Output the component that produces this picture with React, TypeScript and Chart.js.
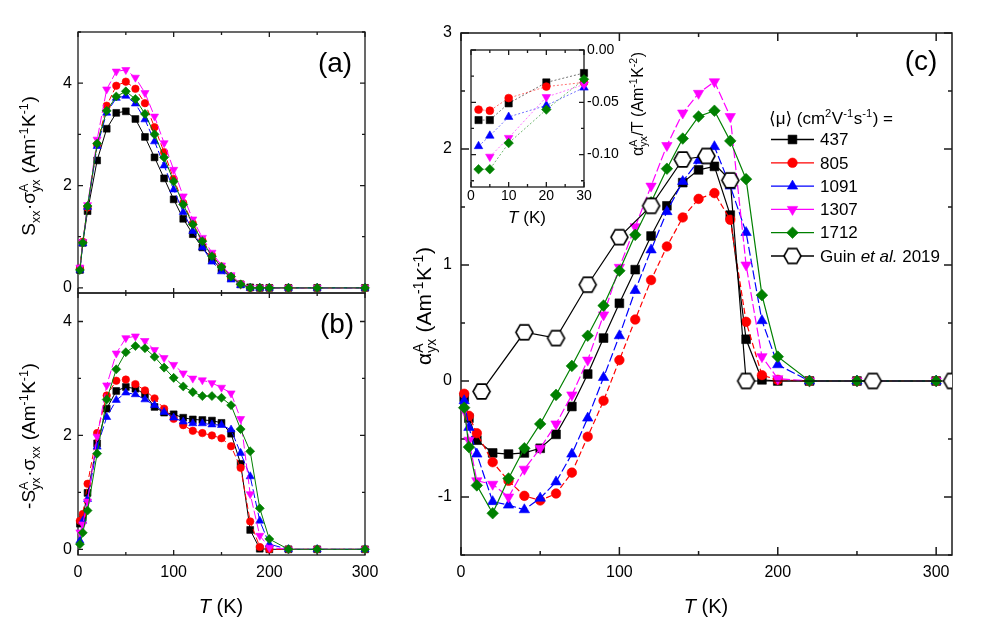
import React, { useEffect, useRef } from 'react';
import { Chart, registerables } from 'chart.js';
import { drawPoint } from 'chart.js/helpers';

Chart.register(...registerables);

const FONT = "'Liberation Sans', Arial, Helvetica, 'DejaVu Sans', sans-serif";
const W = 981;
const H = 638;

// ---------------- data ----------------
const T_MAIN = [2, 5, 10, 20, 30, 40, 50, 60, 70, 80, 90, 100, 110, 120, 130, 140, 150, 160, 170, 180, 190, 200, 220, 250, 300];
const MOBILITY_LABELS = ['437', '805', '1091', '1307', '1712'];

// panel (a): S_xx * sigma^A_yx
const A_437 = [0.35, 0.88, 1.5, 2.49, 3.11, 3.42, 3.45, 3.3, 2.95, 2.55, 2.14, 1.73, 1.35, 1.05, 0.79, 0.56, 0.36, 0.2, 0.07, 0.01, 0, 0, 0, 0, 0];
const A_805 = [0.38, 0.9, 1.57, 2.8, 3.56, 3.95, 4.03, 3.89, 3.61, 3.14, 2.65, 2.13, 1.66, 1.26, 0.93, 0.64, 0.42, 0.22, 0.07, 0, 0, 0, 0, 0, 0];
const A_1091 = [0.35, 0.87, 1.58, 2.77, 3.42, 3.71, 3.75, 3.6, 3.29, 2.86, 2.39, 1.92, 1.48, 1.11, 0.79, 0.51, 0.32, 0.16, 0.05, 0, 0, 0, 0, 0, 0];
const A_1307 = [0.4, 0.9, 1.62, 2.9, 3.88, 4.23, 4.26, 4.11, 3.81, 3.35, 2.83, 2.31, 1.79, 1.34, 0.98, 0.69, 0.44, 0.25, 0.08, 0, 0, 0, 0, 0, 0];
const A_1712 = [0.35, 0.88, 1.6, 2.82, 3.46, 3.74, 3.84, 3.69, 3.4, 3.0, 2.55, 2.08, 1.63, 1.24, 0.91, 0.62, 0.41, 0.22, 0.07, 0, 0, 0, 0, 0, 0];

// panel (b): -S^A_yx * sigma_xx
const B_437 = [0.45, 0.56, 0.99, 1.86, 2.47, 2.78, 2.85, 2.82, 2.72, 2.5, 2.4, 2.37, 2.31, 2.28, 2.27, 2.26, 2.22, 2.03, 1.5, 0.34, 0.01, 0, 0, 0, 0];
const B_805 = [0.5, 0.62, 1.15, 2.04, 2.7, 2.96, 2.98, 2.9, 2.79, 2.65, 2.47, 2.29, 2.18, 2.08, 2.04, 2.0, 1.95, 1.81, 1.43, 0.49, 0.04, 0, 0, 0, 0];
const B_1091 = [0.15, 0.5, 0.88, 1.8, 2.32, 2.62, 2.75, 2.72, 2.63, 2.53, 2.41, 2.31, 2.24, 2.21, 2.21, 2.19, 2.18, 2.1, 1.69, 1.28, 0.5, 0.09, 0, 0, 0];
const B_1307 = [0.3, 0.44, 0.84, 1.98, 2.88, 3.44, 3.71, 3.74, 3.66, 3.5, 3.36, 3.24, 3.09, 3.0, 2.97, 2.92, 2.84, 2.74, 2.29, 0.97, 0.24, 0.03, 0, 0, 0];
const B_1712 = [0.09, 0.29, 0.68, 1.68, 2.63, 3.16, 3.46, 3.57, 3.53, 3.38, 3.19, 3.01, 2.86, 2.76, 2.69, 2.69, 2.66, 2.53, 2.11, 1.72, 0.72, 0.18, 0, 0, 0];

// panel (c): alpha^A_yx
const C_437 = [-0.14, -0.32, -0.51, -0.62, -0.63, -0.62, -0.58, -0.46, -0.22, 0.06, 0.37, 0.67, 0.96, 1.25, 1.51, 1.71, 1.82, 1.85, 1.43, 0.36, 0.01, 0, 0, 0, 0];
const C_805 = [-0.11, -0.3, -0.45, -0.7, -0.86, -0.99, -1.03, -0.97, -0.79, -0.48, -0.17, 0.18, 0.53, 0.87, 1.16, 1.41, 1.57, 1.62, 1.39, 0.51, 0.05, 0.01, 0, 0, 0];
const C_1091 = [-0.17, -0.4, -0.63, -1.04, -1.07, -1.11, -1.01, -0.87, -0.63, -0.32, 0.03, 0.39, 0.78, 1.13, 1.46, 1.72, 1.9, 2.02, 1.68, 1.28, 0.52, 0.14, 0, 0, 0];
const C_1307 = [-0.25, -0.51, -0.86, -0.89, -1.0, -0.76, -0.58, -0.37, -0.12, 0.18, 0.57, 0.98, 1.33, 1.68, 2.03, 2.31, 2.48, 2.58, 2.28, 1.0, 0.21, 0.02, 0, 0, 0];
const C_1712 = [-0.23, -0.57, -0.9, -1.14, -0.84, -0.58, -0.37, -0.12, 0.13, 0.39, 0.65, 0.95, 1.26, 1.54, 1.83, 2.09, 2.28, 2.33, 2.07, 1.74, 0.74, 0.21, 0, 0, 0];

// Guin et al. 2019
const GUIN_T = [13, 40, 60, 80, 100, 120, 140, 155, 170, 180, 260, 310];
const GUIN_ALPHA = [-0.09, 0.42, 0.37, 0.83, 1.24, 1.51, 1.91, 1.94, 1.73, 0, 0, 0];

// inset: alpha^A_yx / T
const T_INSET = [2, 5, 10, 20, 30];
const IN_437 = [-0.067, -0.067, -0.051, -0.031, -0.022];
const IN_805 = [-0.057, -0.058, -0.046, -0.035, -0.031];
const IN_1091 = [-0.092, -0.082, -0.064, -0.053, -0.036];
const IN_1307 = [null, -0.102, -0.084, -0.045, -0.033];
const IN_1712 = [-0.114, -0.114, -0.089, -0.057, -0.028];

// ---------------- styles ----------------
type Style = { color: string; point: string; rot: number; dash: number[]; r: number };
const STYLES: Style[] = [
  { color: '#000000', point: 'rect', rot: 0, dash: [], r: 6.2 },
  { color: '#ff0000', point: 'circle', rot: 0, dash: [6, 3], r: 4.8 },
  { color: '#0000ff', point: 'triangle', rot: 0, dash: [9, 3], r: 6 },
  { color: '#ff00ff', point: 'triangle', rot: 180, dash: [9, 3], r: 6 },
  { color: '#008000', point: 'rectRot', rot: 0, dash: [], r: 5.8 },
];

function makeHex(r: number): HTMLCanvasElement {
  const c = document.createElement('canvas');
  const s = Math.ceil(r * 2 + 4);
  c.width = s;
  c.height = s;
  const ctx = c.getContext('2d')!;
  ctx.beginPath();
  for (let i = 0; i < 6; i++) {
    const a = (i * Math.PI) / 3;
    const x = s / 2 + r * Math.cos(a);
    const y = s / 2 + r * Math.sin(a);
    if (i) ctx.lineTo(x, y);
    else ctx.moveTo(x, y);
  }
  ctx.closePath();
  ctx.fillStyle = '#ffffff';
  ctx.fill();
  ctx.lineWidth = 1.6;
  ctx.strokeStyle = '#000000';
  ctx.stroke();
  return c;
}
const HEX = makeHex(8.5);

function rgba(hex: string, a: number) {
  const n = parseInt(hex.slice(1), 16);
  return `rgba(${(n >> 16) & 255},${(n >> 8) & 255},${n & 255},${a})`;
}

function mkDs(label: string, xs: number[], ys: (number | null)[], st: Style, k: number, order: number, lw: number, dashed: boolean, clip: any, alpha = 1, dashOverride?: number[]) {
  return {
    label,
    order,
    clip,
    data: xs.map((x, i) => ({ x, y: ys[i] })),
    borderColor: alpha < 1 ? rgba(st.color, alpha) : st.color,
    backgroundColor: st.color,
    borderWidth: lw,
    borderDash: dashOverride ? dashOverride : dashed ? st.dash : [],
    pointStyle: st.point as any,
    pointRotation: st.rot,
    pointRadius: st.r * k,
    pointBackgroundColor: st.color,
    pointBorderColor: st.color,
    pointBorderWidth: 0.6,
    tension: 0,
    fill: false,
    spanGaps: true,
  };
}

// ---------------- rich text ----------------
type Seg = { t?: string; it?: boolean; sup?: string; sub?: string };
const fnt = (size: number, it?: boolean) => `${it ? 'italic ' : ''}${size}px ${FONT}`;

function richWidth(ctx: CanvasRenderingContext2D, segs: Seg[], size: number) {
  let w = 0;
  for (const s of segs) {
    if (s.t !== undefined) {
      ctx.font = fnt(size, s.it);
      w += ctx.measureText(s.t).width;
    } else {
      ctx.font = fnt(size * 0.66, s.it);
      const a = s.sup ? ctx.measureText(s.sup).width : 0;
      const b = s.sub ? ctx.measureText(s.sub).width : 0;
      w += Math.max(a, b) + size * 0.03;
    }
  }
  return w;
}

function drawRich(ctx: CanvasRenderingContext2D, segs: Seg[], cx: number, cy: number, size: number, align: 'center' | 'left', rotate = false) {
  ctx.save();
  ctx.translate(cx, cy);
  if (rotate) ctx.rotate(-Math.PI / 2);
  const w = richWidth(ctx, segs, size);
  let x = align === 'center' ? -w / 2 : 0;
  const base = size * 0.34;
  ctx.textBaseline = 'alphabetic';
  ctx.textAlign = 'left';
  ctx.fillStyle = '#000000';
  for (const s of segs) {
    if (s.t !== undefined) {
      ctx.font = fnt(size, s.it);
      ctx.fillText(s.t, x, base);
      x += ctx.measureText(s.t).width;
    } else {
      ctx.font = fnt(size * 0.66, s.it);
      let a = 0;
      let b = 0;
      if (s.sup) {
        ctx.fillText(s.sup, x, base - size * 0.4);
        a = ctx.measureText(s.sup).width;
      }
      if (s.sub) {
        ctx.fillText(s.sub, x, base + size * 0.24);
        b = ctx.measureText(s.sub).width;
      }
      x += Math.max(a, b) + size * 0.03;
    }
  }
  ctx.restore();
}

const TITLE_A: Seg[] = [{ t: 'S' }, { sub: 'xx' }, { t: '·σ' }, { sup: 'A', sub: 'yx' }, { t: ' (Am' }, { sup: '-1' }, { t: 'K' }, { sup: '-1' }, { t: ')' }];
const TITLE_B: Seg[] = [{ t: '-S' }, { sup: 'A', sub: 'yx' }, { t: '·σ' }, { sub: 'xx' }, { t: ' (Am' }, { sup: '-1' }, { t: 'K' }, { sup: '-1' }, { t: ')' }];
const TITLE_C: Seg[] = [{ t: 'α' }, { sup: 'A', sub: 'yx' }, { t: ' (Am' }, { sup: '-1' }, { t: 'K' }, { sup: '-1' }, { t: ')' }];
const TITLE_INSET: Seg[] = [{ t: 'α' }, { sup: 'A', sub: 'yx' }, { t: '/T (Am' }, { sup: '-1' }, { t: 'K' }, { sup: '-2' }, { t: ')' }];
const TITLE_T: Seg[] = [{ t: 'T', it: true }, { t: ' (K)' }];
const LEGEND_HEAD: Seg[] = [{ t: '⟨μ⟩ (cm' }, { sup: '2' }, { t: 'V' }, { sup: '-1' }, { t: 's' }, { sup: '-1' }, { t: ') =' }];
const LEGEND_GUIN: Seg[] = [{ t: 'Guin ' }, { t: 'et al.', it: true }, { t: ' 2019' }];

// ---------------- helpers for scales / frame ----------------
const isMult = (v: number, m: number) => Math.abs(v / m - Math.round(v / m)) < 1e-6;

function scale(o: { min: number; max: number; step: number; major: number; pos: string; size: number; show: boolean; pad?: number; fs?: number; fmt?: (v: number) => string }) {
  const fmt = o.fmt || ((v: number) => String(Math.round(v * 1000) / 1000));
  return {
    type: 'linear',
    position: o.pos,
    min: o.min,
    max: o.max,
    grid: { display: false, drawTicks: false },
    border: { display: false },
    ticks: {
      display: o.show,
      stepSize: o.step,
      includeBounds: false,
      autoSkip: false,
      maxRotation: 0,
      minRotation: 0,
      padding: o.pad ?? 4,
      color: '#000000',
      font: { size: o.fs ?? 16, family: FONT },
      callback: (v: any) => (isMult(Number(v), o.major) ? fmt(Number(v)) : ''),
    },
    afterFit: (s: any) => {
      if (o.pos === 'left' || o.pos === 'right') s.width = o.size;
      else s.height = o.size;
    },
  };
}

function framePlugin(cfg: { xMajor: number; xMinor: number; yMajor: number; yMinor: number; maj: number; min: number; lw: number; white?: boolean }) {
  return {
    id: 'frameTicks',
    beforeDatasetsDraw(chart: any) {
      const { ctx, chartArea: a, scales } = chart;
      const xs = scales.x;
      const ys = scales.y;
      ctx.save();
      if (cfg.white) {
        ctx.fillStyle = '#ffffff';
        ctx.fillRect(a.left, a.top, a.right - a.left, a.bottom - a.top);
      }
      ctx.strokeStyle = '#1a1a1a';
      ctx.lineWidth = cfg.lw;
      ctx.strokeRect(a.left, a.top, a.right - a.left, a.bottom - a.top);
      ctx.beginPath();
      const i0 = Math.ceil(xs.min / cfg.xMinor - 1e-9);
      const i1 = Math.floor(xs.max / cfg.xMinor + 1e-9);
      for (let i = i0; i <= i1; i++) {
        const v = i * cfg.xMinor;
        const p = xs.getPixelForValue(v);
        const L = isMult(v, cfg.xMajor) ? cfg.maj : cfg.min;
        ctx.moveTo(p, a.bottom);
        ctx.lineTo(p, a.bottom - L);
        ctx.moveTo(p, a.top);
        ctx.lineTo(p, a.top + L);
      }
      const j0 = Math.ceil(ys.min / cfg.yMinor - 1e-9);
      const j1 = Math.floor(ys.max / cfg.yMinor + 1e-9);
      for (let j = j0; j <= j1; j++) {
        const v = j * cfg.yMinor;
        const p = ys.getPixelForValue(v);
        const L = isMult(v, cfg.yMajor) ? cfg.maj : cfg.min;
        ctx.moveTo(a.left, p);
        ctx.lineTo(a.left + L, p);
        ctx.moveTo(a.right, p);
        ctx.lineTo(a.right - L, p);
      }
      ctx.stroke();
      ctx.restore();
    },
  };
}

function baseOptions(padding: any, x: any, y: any) {
  return {
    responsive: false,
    animation: false,
    events: [],
    layout: { padding },
    plugins: { legend: { display: false }, tooltip: { enabled: false } },
    scales: { x, y },
  } as any;
}

// ---------------- decorations ----------------
const decorPlugin = {
  id: 'decor',
  afterDraw(chart: any) {
    const ctx: CanvasRenderingContext2D = chart.ctx;
    ctx.save();
    // axis titles
    drawRich(ctx, TITLE_A, 29, 166, 19, 'center', true);
    drawRich(ctx, TITLE_B, 29, 436, 19, 'center', true);
    drawRich(ctx, TITLE_C, 424, 306, 21, 'center', true);
    drawRich(ctx, TITLE_T, 221, 606, 20, 'center');
    drawRich(ctx, TITLE_T, 706, 606, 20, 'center');
    // panel labels
    drawRich(ctx, [{ t: '(a)' }], 335, 62, 28, 'center');
    drawRich(ctx, [{ t: '(b)' }], 337, 323, 28, 'center');
    drawRich(ctx, [{ t: '(c)' }], 921, 60, 28, 'center');
    // legend
    drawRich(ctx, LEGEND_HEAD, 769, 118, 17, 'left');
    const rowY = (i: number) => 139.5 + i * 23.3;
    for (let i = 0; i < 6; i++) {
      const y = rowY(i);
      const col = i < 5 ? STYLES[i].color : '#000000';
      ctx.strokeStyle = col;
      ctx.lineWidth = 1.3;
      ctx.setLineDash([]);
      ctx.beginPath();
      ctx.moveTo(771, y);
      ctx.lineTo(814, y);
      ctx.stroke();
      if (i < 5) {
        const st = STYLES[i];
        ctx.fillStyle = st.color;
        ctx.strokeStyle = st.color;
        ctx.lineWidth = 0.6;
        drawPoint(ctx, { pointStyle: st.point as any, radius: st.r, rotation: st.rot, borderWidth: 0.6 } as any, 792.5, y);
        drawRich(ctx, [{ t: MOBILITY_LABELS[i] }], 820, y, 17, 'left');
      } else {
        ctx.drawImage(HEX, 792.5 - HEX.width / 2, y - HEX.height / 2);
        drawRich(ctx, LEGEND_GUIN, 820, y, 17, 'left');
      }
    }
    ctx.restore();
  },
};

const insetDecor = {
  id: 'insetDecor',
  afterDraw(chart: any) {
    const ctx: CanvasRenderingContext2D = chart.ctx;
    drawRich(ctx, TITLE_INSET, 638, 104, 16, 'center', true);
    drawRich(ctx, TITLE_T, 527, 217, 17, 'center');
  },
};

// ---------------- chart builders ----------------
const SER_A = [A_437, A_805, A_1091, A_1307, A_1712];
const SER_B = [B_437, B_805, B_1091, B_1307, B_1712];
const SER_C = [C_437, C_805, C_1091, C_1307, C_1712];
const SER_IN = [IN_437, IN_805, IN_1091, IN_1307, IN_1712];

function makeA(canvas: HTMLCanvasElement) {
  return new Chart(canvas, {
    type: 'line',
    data: { datasets: SER_A.map((ys, i) => mkDs(MOBILITY_LABELS[i], T_MAIN, ys, STYLES[i], 0.78, 5 - i, 1, true, false)) as any },
    options: baseOptions(
      { left: 0, right: W - 365, top: 32, bottom: H - 293 },
      scale({ min: 0, max: 300, step: 50, major: 100, pos: 'bottom', size: 0, show: false }),
      scale({ min: -0.1, max: 5, step: 1, major: 2, pos: 'left', size: 78, show: true, pad: 6 })
    ),
    plugins: [framePlugin({ xMajor: 100, xMinor: 50, yMajor: 2, yMinor: 1, maj: 5, min: 3, lw: 1.3 })],
  });
}

function makeB(canvas: HTMLCanvasElement) {
  return new Chart(canvas, {
    type: 'line',
    data: { datasets: SER_B.map((ys, i) => mkDs(MOBILITY_LABELS[i], T_MAIN, ys, STYLES[i], 0.78, 5 - i, 1, true, false)) as any },
    options: baseOptions(
      { left: 0, right: W - 365, top: 293, bottom: H - 555 - 40 },
      scale({ min: 0, max: 300, step: 50, major: 100, pos: 'bottom', size: 40, show: true, pad: 8 }),
      scale({ min: -0.1, max: 4.5, step: 1, major: 2, pos: 'left', size: 78, show: true, pad: 6 })
    ),
    plugins: [framePlugin({ xMajor: 100, xMinor: 50, yMajor: 2, yMinor: 1, maj: 5, min: 3, lw: 1.3 })],
  });
}

function makeC(canvas: HTMLCanvasElement) {
  const clip = { left: 10, top: 10, right: 0, bottom: 10 };
  const ds: any[] = SER_C.map((ys, i) => mkDs(MOBILITY_LABELS[i], T_MAIN, ys, STYLES[i], 1, 5 - i, 1.2, true, clip));
  ds.push({
    label: 'Guin et al. 2019',
    order: 0,
    clip,
    data: GUIN_T.map((x, i) => ({ x, y: GUIN_ALPHA[i] })),
    borderColor: '#000000',
    borderWidth: 1.2,
    pointStyle: HEX,
    pointRadius: 8,
    tension: 0,
    fill: false,
  });
  return new Chart(canvas, {
    type: 'line',
    data: { datasets: ds },
    options: baseOptions(
      { left: 461 - 60, right: W - 952, top: 33, bottom: H - 555 - 40 },
      scale({ min: 0, max: 310, step: 50, major: 100, pos: 'bottom', size: 40, show: true, pad: 8 }),
      scale({ min: -1.5, max: 3, step: 0.5, major: 1, pos: 'left', size: 60, show: true, pad: 9 })
    ),
    plugins: [framePlugin({ xMajor: 100, xMinor: 50, yMajor: 1, yMinor: 0.5, maj: 8, min: 4, lw: 1.5 }), decorPlugin],
  });
}

function makeInset(canvas: HTMLCanvasElement) {
  const ds = SER_IN.map((ys, i) => mkDs(MOBILITY_LABELS[i], T_INSET, ys, STYLES[i], 0.82, 5 - i, 1, true, false, 0.55, [2, 2]));
  return new Chart(canvas, {
    type: 'line',
    data: { datasets: ds as any },
    options: baseOptions(
      { left: 471, right: W - 584 - 50, top: 50, bottom: H - 187 - 25 },
      scale({ min: 0, max: 30, step: 5, major: 10, pos: 'bottom', size: 25, show: true, pad: 1, fs: 14 }),
      scale({ min: -0.131, max: 0, step: 0.025, major: 0.05, pos: 'right', size: 50, show: true, pad: 3, fs: 14, fmt: (v) => (Math.abs(v) < 1e-9 ? '0.00' : v.toFixed(2)) })
    ),
    plugins: [framePlugin({ xMajor: 10, xMinor: 5, yMajor: 0.05, yMinor: 0.025, maj: 5, min: 3, lw: 1.3, white: true }), insetDecor],
  });
}

function ChartCanvas({ make }: { make: (c: HTMLCanvasElement) => Chart }) {
  const ref = useRef<HTMLCanvasElement>(null);
  useEffect(() => {
    const ch = make(ref.current!);
    return () => ch.destroy();
  }, []);
  return <canvas ref={ref} width={W} height={H} style={{ position: 'absolute', left: 0, top: 0, width: W, height: H }} />;
}

export default function App() {
  return (
    <div style={{ position: 'fixed', left: 0, top: 0, width: W, height: H, background: '#ffffff', overflow: 'hidden' }}>
      <ChartCanvas make={makeA} />
      <ChartCanvas make={makeB} />
      <ChartCanvas make={makeC} />
      <ChartCanvas make={makeInset} />
    </div>
  );
}
